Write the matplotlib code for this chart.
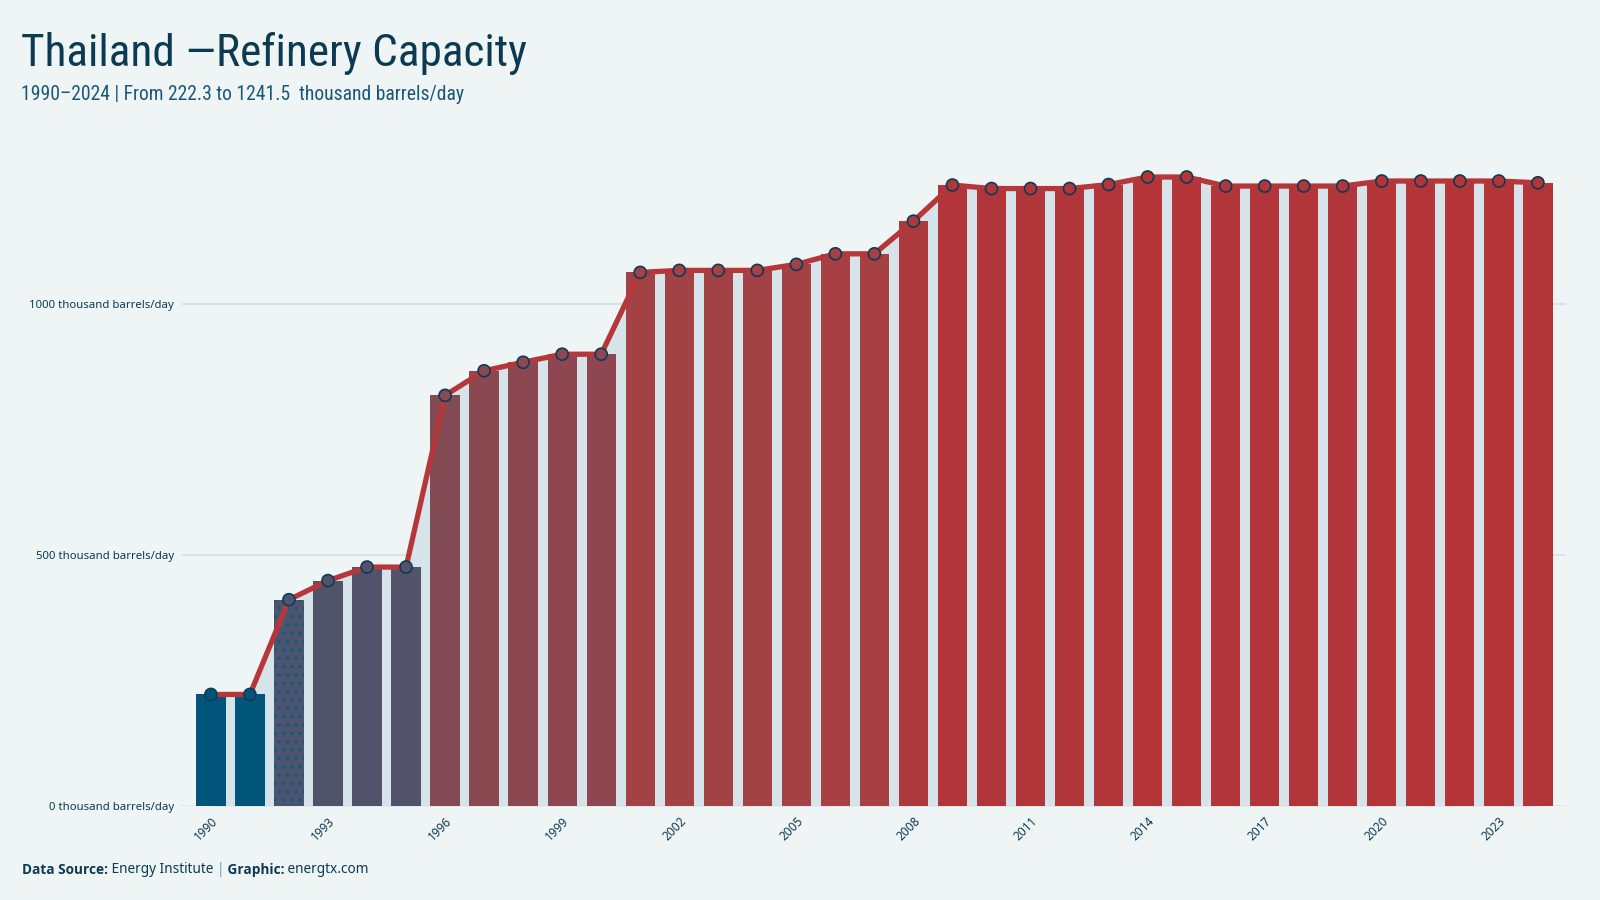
import matplotlib
matplotlib.use("Agg")
import matplotlib.pyplot as plt
from matplotlib import font_manager
from matplotlib.colors import LinearSegmentedColormap, Normalize

# data (thousand barrels/day)
years = list(range(1990, 2025))
capacity = [
    222.3, 222.3, 411, 449, 476, 476, 818, 867, 884, 900,
    900, 1063, 1067, 1067, 1067, 1079, 1100, 1100, 1165, 1237,
    1230, 1230, 1230, 1238, 1253, 1253, 1235, 1235, 1235, 1235,
    1245, 1245, 1245, 1245, 1241.5,
]
y_ticks = [0, 500, 1000]
y_tick_labels = ["0 thousand barrels/day", "500 thousand barrels/day", "1000 thousand barrels/day"]
x_tick_years = years[::3]

title = "Thailand \u2014Refinery Capacity"
subtitle = "1990\u20132024 | From 222.3 to 1241.5  thousand barrels/day"

# -----------------------------------------------
BG = "#eff5f5"
NAVY = "#0b3a52"
SUB = "#1a5777"
FILL = "#d6e3e8"
LINE = "#b5373a"
GRID = "#d5e0e4"

installed = {f.name for f in font_manager.fontManager.ttflist}
COND = [f for f in ["Roboto Condensed", "Liberation Sans Narrow", "DejaVu Sans"] if f in installed]
BODY = ["Noto Sans", "DejaVu Sans"]
BOLD = [f for f in ["Open Sans", "Lato", "DejaVu Sans"] if f in installed]

cmap = LinearSegmentedColormap.from_list("cap", [
    (0.0, "#02557a"), (0.18, "#4b5570"), (0.22, "#51536a"), (0.25, "#52536a"),
    (0.58, "#844b53"), (0.66, "#8e4750"), (0.82, "#a34245"),
    (0.92, "#ac3a3d"), (1.0, "#b33538"),
])
norm = Normalize(min(capacity), max(capacity))
bar_colors = [cmap(norm(v)) for v in capacity]

fig = plt.figure(figsize=(16, 9), dpi=100, facecolor=BG)
ax = fig.add_axes([0.114, 0.1044, 0.865, 0.7363])
ax.set_facecolor(BG)

ax.fill_between(years, capacity, 0, color=FILL, linewidth=0, zorder=1)
bars = ax.bar(years, capacity, width=0.75, color=bar_colors, linewidth=0, zorder=2)
# the 1992 bar is drawn stippled in the reference
bars[2].set_hatch("..")
bars[2].set_edgecolor("#0a5a7e")
bars[2].set_linewidth(0)

ax.plot(years, capacity, color=LINE, linewidth=3.8, zorder=3, solid_capstyle="butt")
ax.scatter(years, capacity, s=75, c=bar_colors, edgecolors="#0d3b56",
           linewidths=1.2, zorder=4)

ax.set_xlim(years[0] - 0.73, years[-1] + 0.73)
ax.set_ylim(0, 1320)

for y in y_ticks[1:]:
    ax.axhline(y, color=GRID, linewidth=1.2, zorder=0)
ax.axhline(0, color="#c9d6db", linewidth=1.2, linestyle=(0, (1, 1)), zorder=0)

ax.set_yticks(y_ticks)
ax.set_yticklabels(y_tick_labels, family=BODY, fontsize=8.2, color=NAVY)
ax.set_xticks(x_tick_years)
ax.set_xticklabels([str(y) for y in x_tick_years], family=BODY, fontsize=8.5,
                   color=NAVY, rotation=45, ha="right", va="top",
                   rotation_mode="anchor")
ax.tick_params(axis="both", length=0)
ax.tick_params(axis="y", pad=6)
ax.tick_params(axis="x", pad=6)
for s in ax.spines.values():
    s.set_visible(False)

fig.canvas.draw()
renderer = fig.canvas.get_renderer()

# fit title / subtitle widths to the reference
t1 = fig.text(0.013, 0.941, title, family=COND, fontsize=34, color=NAVY, va="center")
w = t1.get_window_extent(renderer).width
t1.set_fontsize(min(36, 34 * 506 / w))
t2 = fig.text(0.013, 0.895, subtitle, family=COND, fontsize=16, color=SUB, va="center")
w = t2.get_window_extent(renderer).width
t2.set_fontsize(min(19, 16 * 445 / w))

# caption: mixed bold/regular runs placed one after another
parts = [("Data Source:", "bold", NAVY, BOLD), (" Energy Institute ", "normal", NAVY, BODY),
         ("|", "normal", "#7f9aaa", BODY), (" Graphic:", "bold", NAVY, BOLD),
         (" energtx.com", "normal", NAVY, BODY)]
x = 0.0135
for txt, weight, col, fam in parts:
    t = fig.text(x, 0.0335, txt, family=fam, fontsize=9.8, fontweight=weight,
                 color=col, va="center")
    bb = t.get_window_extent(renderer)
    x += bb.width / fig.bbox.width

fig.savefig("out.png", dpi=100, facecolor=BG)
